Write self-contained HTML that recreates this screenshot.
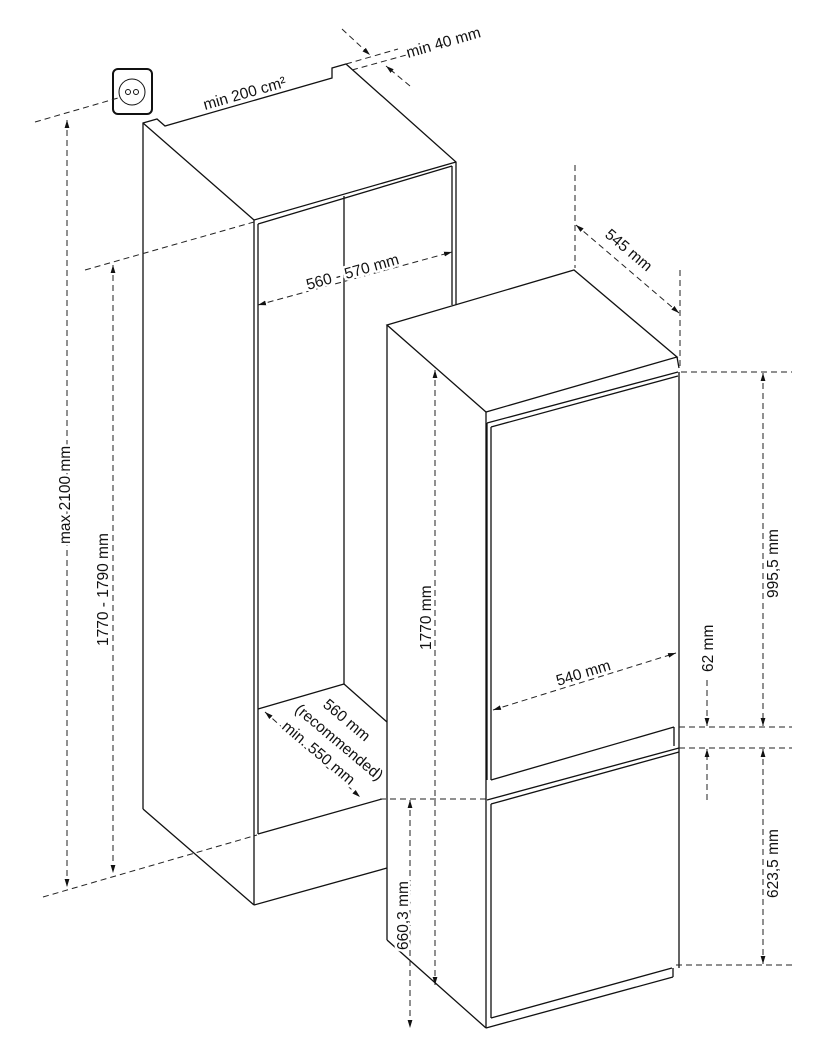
<!DOCTYPE html>
<html><head><meta charset="utf-8"><style>
html,body{margin:0;padding:0;background:#fff;}
svg{display:block;}
text{font-family:"Liberation Sans",sans-serif;font-size:15.5px;fill:#111;stroke:#fff;stroke-width:5px;paint-order:stroke;stroke-linejoin:round;}
</style></head><body>
<svg width="820" height="1054" viewBox="0 0 820 1054" xmlns="http://www.w3.org/2000/svg">
<defs>
<marker id="a" viewBox="0 0 10 10" refX="10" refY="5" markerWidth="8" markerHeight="8" orient="auto-start-reverse" markerUnits="userSpaceOnUse"><path d="M0,2 L10,5 L0,8 z" fill="#111"/></marker>
</defs>
<g fill="none" stroke="#111" stroke-width="1.3">
<rect x="113" y="69" width="39" height="45" rx="5" stroke-width="2"/>
<circle cx="132" cy="92" r="13" stroke-width="1"/>
<circle cx="128" cy="92" r="2.5" stroke-width="1"/>
<circle cx="136" cy="92" r="2.5" stroke-width="1"/>
<polyline points="143,809 143,123 157,119 165,126 332,78 332,68 346,64 456,162 456,305"/>
<line x1="143" y1="123" x2="254" y2="220"/>
<line x1="254" y1="220" x2="456" y2="162"/>
<line x1="258" y1="224" x2="452" y2="166"/>
<line x1="254" y1="220" x2="254" y2="905"/>
<line x1="258" y1="224" x2="258" y2="834"/>
<line x1="452" y1="166" x2="452" y2="305"/>
<line x1="344" y1="196" x2="344" y2="684"/>
<line x1="258" y1="709" x2="344" y2="684"/>
<line x1="344" y1="684" x2="387" y2="722"/>
<line x1="258" y1="834" x2="382" y2="799"/>
<line x1="143" y1="809" x2="254" y2="905"/>
<line x1="254" y1="905" x2="387" y2="868"/>
<polygon points="387,325 574,270 677,357 486,412"/>
<line x1="387" y1="325" x2="387" y2="940"/>
<line x1="387" y1="940" x2="486" y2="1028"/>
<line x1="486" y1="412" x2="486" y2="1028"/>
<line x1="677" y1="357" x2="679" y2="368"/>
<line x1="679" y1="372" x2="679" y2="968"/>
<polyline points="487,423 678,372"/>
<polyline points="491,427 678,376"/>
<line x1="487" y1="423" x2="487" y2="780"/>
<line x1="491" y1="427" x2="491" y2="780"/>
<line x1="491" y1="780" x2="674" y2="727"/>
<line x1="674" y1="727" x2="674" y2="746"/>
<line x1="487" y1="800" x2="679" y2="748"/>
<line x1="491" y1="804" x2="679" y2="752"/>
<line x1="491" y1="804" x2="491" y2="1018"/>
<line x1="491" y1="1018" x2="672" y2="968"/>
<line x1="486" y1="1028" x2="673" y2="977"/>
<line x1="673" y1="968" x2="673" y2="977"/>
</g>
<g fill="none" stroke="#222" stroke-width="1" stroke-dasharray="6,4">
<line x1="35" y1="122" x2="118" y2="98"/>
<line x1="43" y1="897" x2="257" y2="835"/>
<line x1="67" y1="120" x2="67" y2="887" marker-start="url(#a)" marker-end="url(#a)"/>
<line x1="85" y1="270" x2="254" y2="222"/>
<line x1="113" y1="265" x2="113" y2="873" marker-start="url(#a)" marker-end="url(#a)"/>
<line x1="258" y1="305" x2="452" y2="252" marker-start="url(#a)" marker-end="url(#a)"/>
<line x1="346" y1="64" x2="398" y2="49"/>
<line x1="352" y1="70" x2="410" y2="54"/>
<line x1="342" y1="29" x2="370" y2="55" marker-end="url(#a)"/>
<line x1="410" y1="86" x2="386" y2="66" marker-end="url(#a)"/>
<line x1="575" y1="165" x2="575" y2="268"/>
<line x1="680" y1="270" x2="680" y2="370"/>
<line x1="576" y1="225" x2="679" y2="313" marker-start="url(#a)" marker-end="url(#a)"/>
<line x1="435" y1="370" x2="435" y2="985" marker-start="url(#a)" marker-end="url(#a)"/>
<line x1="681" y1="372" x2="792" y2="372"/>
<line x1="763" y1="373" x2="763" y2="726" marker-start="url(#a)" marker-end="url(#a)"/>
<line x1="679" y1="727" x2="792" y2="727"/>
<line x1="679" y1="748" x2="792" y2="748"/>
<line x1="707" y1="680" x2="707" y2="726" marker-end="url(#a)"/>
<line x1="707" y1="800" x2="707" y2="749" marker-end="url(#a)"/>
<line x1="763" y1="749" x2="763" y2="964" marker-start="url(#a)" marker-end="url(#a)"/>
<line x1="676" y1="965" x2="792" y2="965"/>
<line x1="380" y1="799" x2="487" y2="799"/>
<line x1="410" y1="800" x2="410" y2="1028" marker-start="url(#a)" marker-end="url(#a)"/>
<line x1="493" y1="710" x2="676" y2="653" marker-start="url(#a)" marker-end="url(#a)"/>
<line x1="265" y1="712" x2="360" y2="797" marker-start="url(#a)" marker-end="url(#a)"/>
</g>
<text transform="translate(205,110) rotate(-16)">min 200 cm²</text>
<text transform="translate(408,58) rotate(-16)">min 40 mm</text>
<text transform="translate(308,290) rotate(-16)">560 - 570 mm</text>
<text transform="translate(604,236) rotate(40)">545 mm</text>
<text transform="translate(70,544) rotate(-90)">max 2100 mm</text>
<text transform="translate(108,646) rotate(-90)">1770 - 1790 mm</text>
<text transform="translate(431,650) rotate(-90)">1770 mm</text>
<text transform="translate(778,598) rotate(-90)">995,5 mm</text>
<text transform="translate(713,672) rotate(-90)">62 mm</text>
<text transform="translate(778,898) rotate(-90)">623,5 mm</text>
<text transform="translate(408,950) rotate(-90)">660,3 mm</text>
<text transform="translate(558,686) rotate(-17)">540 mm</text>
<text transform="translate(322,706) rotate(40)">560 mm</text>
<text transform="translate(294,711) rotate(40)">(recommended)</text>
<text transform="translate(281,728) rotate(40)">min. 550 mm</text>
</svg>
</body></html>
